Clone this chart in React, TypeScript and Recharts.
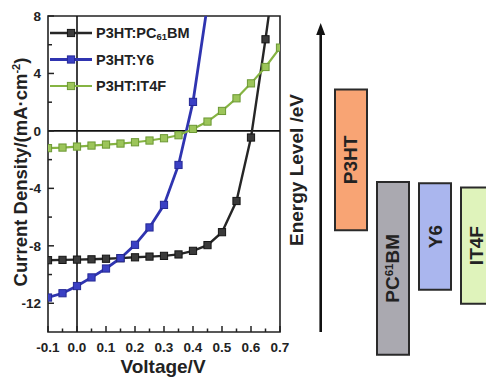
import React from 'react';
import {
  ComposedChart,
  Line,
  XAxis,
  YAxis,
  ReferenceLine,
  ReferenceArea,
  Legend,
  BarChart,
  Bar,
  Cell,
  LabelList,
} from 'recharts';

// ---------- J-V data ----------
const voltage = [-0.1, -0.05, 0, 0.05, 0.1, 0.15, 0.2, 0.25, 0.3, 0.35, 0.4, 0.45, 0.5, 0.55, 0.6, 0.65, 0.7];
const jPC61BM = [-9.0, -8.98, -8.96, -8.94, -8.9, -8.86, -8.8, -8.75, -8.7, -8.6, -8.35, -7.95, -7.05, -4.88, -0.46, 6.38, 13.8];
const jY6 = [-11.6, -11.3, -10.8, -10.2, -9.58, -8.86, -7.93, -6.72, -5.15, -2.37, 2.02, 8.8];
const jIT4F = [-1.2, -1.16, -1.09, -1.02, -0.95, -0.88, -0.79, -0.67, -0.51, -0.3, 0.14, 0.65, 1.39, 2.27, 3.31, 4.45, 5.8];

const seriesKeys = ['pcbm', 'y6', 'it4f'];
const seriesNames = ['P3HT:PC61BM', 'P3HT:Y6', 'P3HT:IT4F'];
const seriesColors = ['#262626', '#2f34b0', '#86b443'];
const markerFills = ['#3a3a3a', '#3a40c4', '#9cc55a'];
const markerStrokes = ['#151515', '#262a96', '#6c9834'];
const seriesWidths = [2.4, 2.8, 2.2];

const xTicks = [-0.1, -0.05, 0, 0.05, 0.1, 0.15, 0.2, 0.25, 0.3, 0.35, 0.4, 0.45, 0.5, 0.55, 0.6, 0.65, 0.7];
const yTicks = [-14, -12, -10, -8, -6, -4, -2, 0, 2, 4, 6, 8];
const yLabelled = [-12, -8, -4, 0, 4, 8];

// ---------- Energy level data ----------
const materials = ['P3HT', 'PC61BM', 'Y6', 'IT4F'];
const lumo = [-2.95, -4.27, -4.29, -4.35];
const homo = [-4.96, -6.74, -5.81, -6.01];
const materialColors = ['#f8a474', '#aaa9b0', '#aab6ee', '#dff3bb'];

const FONT = '"Liberation Sans", Arial, sans-serif';

const jvData = voltage.map((v, i) => ({
  v,
  pcbm: jPC61BM[i],
  y6: i < jY6.length ? jY6[i] : null,
  it4f: jIT4F[i],
}));

const energyData = materials.map((m, i) => ({ name: m, range: [homo[i], lumo[i]] }));

const renderName = (name: string, smallSize: number, dy: number) => {
  const idx = name.indexOf('61');
  if (idx < 0) return name;
  return [
    <tspan key="a">{name.slice(0, idx)}</tspan>,
    <tspan key="b" fontSize={smallSize} dy={dy}>61</tspan>,
    <tspan key="c" dy={-dy}>{name.slice(idx + 2)}</tspan>,
  ];
};

const isMajorX = (v: number) => Math.abs(Math.round(v * 10) - v * 10) < 1e-6;

const XTick = (props: any) => {
  const { x, y, payload } = props;
  const v = payload.value;
  const major = isMajorX(v);
  return (
    <g>
      <line x1={x} y1={y} x2={x} y2={y - (major ? 6 : 3.5)} stroke="#222" strokeWidth={1.5} />
      {major && (
        <text x={x} y={y + 20} textAnchor="middle" fontFamily={FONT} fontWeight="bold" fontSize={13.5} fill="#222">
          {v.toFixed(1)}
        </text>
      )}
    </g>
  );
};

const YTick = (props: any) => {
  const { x, y, payload } = props;
  const v = payload.value;
  const major = yLabelled.includes(v);
  if (v === -14) return <g />;
  return (
    <g>
      <line x1={x} y1={y} x2={x + (major ? 6 : 4)} y2={y} stroke="#222" strokeWidth={1.5} />
      {major && (
        <text x={x - 7} y={y + 5} textAnchor="end" fontFamily={FONT} fontWeight="bold" fontSize={13.5} fill="#222">
          {v}
        </text>
      )}
    </g>
  );
};

const makeDot = (i: number) => (p: any) => {
  if (p.cx == null || p.cy == null || p.value == null) return <g key={`d${i}-${p.index}`} />;
  return (
    <rect
      key={`d${i}-${p.index}`}
      x={p.cx - 3.6}
      y={p.cy - 3.6}
      width={7.2}
      height={7.2}
      fill={markerFills[i]}
      stroke={markerStrokes[i]}
      strokeWidth={1}
    />
  );
};

const renderLegend = () => (
  <svg width={170} height={80} style={{ display: 'block', overflow: 'visible' }}>
    {seriesNames.map((n, i) => {
      const cy = 13 + i * 26.5;
      return (
        <g key={n}>
          <line x1={2} y1={cy} x2={44} y2={cy} stroke={seriesColors[i]} strokeWidth={seriesWidths[i]} />
          <rect x={19.4} y={cy - 3.6} width={7.2} height={7.2} fill={markerFills[i]} stroke={markerStrokes[i]} />
          <text x={48} y={cy + 5} fontFamily={FONT} fontWeight="bold" fontSize={14.5} fill="#222">
            {renderName(n, 9.5, 1.5)}
          </text>
        </g>
      );
    })}
  </svg>
);

const YTitle = (props: any) => {
  const vb = props.viewBox || { x: 0, y: 16, width: 48, height: 316 };
  const cx = 27;
  const cy = vb.y + vb.height / 2 - 2;
  return (
    <text
      x={cx}
      y={cy}
      transform={`rotate(-90, ${cx}, ${cy})`}
      textAnchor="middle"
      fontFamily={FONT}
      fontWeight="bold"
      fontSize={18.5}
      fill="#222"
    >
      Current Density/(mA·cm
      <tspan fontSize={11} dy={-7}>-2</tspan>
      <tspan dy={7}>)</tspan>
    </text>
  );
};

const XTitle = (props: any) => {
  const vb = props.viewBox || { x: 48, y: 332, width: 232, height: 46 };
  return (
    <text
      x={vb.x + vb.width / 2 - 1}
      y={vb.y + 41}
      textAnchor="middle"
      fontFamily={FONT}
      fontWeight="bold"
      fontSize={19}
      fill="#222"
    >
      Voltage/V
    </text>
  );
};

const EnergyAxis = (props: any) => {
  const vb = props.viewBox || { x: 0, y: 23, width: 41, height: 350 };
  const ax = vb.x + vb.width - 0.3;
  const top = vb.y;
  const bottom = vb.y + vb.height - 41;
  const tx = vb.x + 23;
  const ty = 170;
  return (
    <g>
      <line x1={ax} y1={top + 9} x2={ax} y2={bottom} stroke="#111" strokeWidth={2.6} />
      <polygon points={`${ax - 4.5},${top + 12} ${ax},${top} ${ax + 4.5},${top + 12}`} fill="#111" />
      <text
        x={tx}
        y={ty}
        transform={`rotate(-90, ${tx}, ${ty})`}
        textAnchor="middle"
        fontFamily={FONT}
        fontWeight="bold"
        fontSize={19}
        fill="#222"
      >
        Energy Level /eV
      </text>
    </g>
  );
};

const BarName = (props: any) => {
  const { x, y, width, height, value } = props;
  const cx = x + width / 2 + 6.5;
  const cy = y + height / 2;
  return (
    <text
      x={cx}
      y={cy}
      transform={`rotate(-90, ${cx}, ${cy})`}
      textAnchor="middle"
      fontFamily={FONT}
      fontWeight="bold"
      fontSize={19}
      fill="#222"
    >
      {renderName(String(value), 11.5, -6)}
    </text>
  );
};

export default function App() {
  return (
    <div
      style={{
        position: 'absolute',
        left: 0,
        top: 0,
        width: 486,
        height: 378,
        overflow: 'hidden',
        background: '#fff',
      }}
    >
      <div style={{ position: 'absolute', left: 0, top: 0 }}>
        <ComposedChart width={290} height={378} data={jvData} margin={{ top: 16, right: 10, bottom: 0, left: 0 }}>
          <XAxis
            dataKey="v"
            type="number"
            domain={[-0.1, 0.7]}
            ticks={xTicks}
            interval={0}
            allowDataOverflow
            height={46}
            tickSize={0}
            tickMargin={0}
            axisLine={false}
            tickLine={false}
            tick={XTick}
            label={{ content: XTitle }}
          />
          <YAxis
            type="number"
            domain={[-14, 8]}
            ticks={yTicks}
            interval={0}
            allowDataOverflow
            width={48}
            tickSize={0}
            tickMargin={0}
            axisLine={false}
            tickLine={false}
            tick={YTick}
            label={{ content: YTitle }}
          />
          <ReferenceArea x1={-0.1} x2={0.7} y1={-14} y2={8} fill="none" stroke="#222" strokeWidth={1.6} ifOverflow="visible" />
          <ReferenceLine x={0} stroke="#111" strokeWidth={1.6} />
          <ReferenceLine y={0} stroke="#111" strokeWidth={1.6} />
          {seriesKeys.map((k, i) => (
            <Line
              key={k}
              dataKey={k}
              name={seriesNames[i]}
              stroke={seriesColors[i]}
              strokeWidth={seriesWidths[i]}
              dot={makeDot(i)}
              activeDot={false}
              isAnimationActive={false}
              connectNulls={false}
            />
          ))}
          <Legend
            layout="vertical"
            align="center"
            verticalAlign="middle"
            width={170}
            height={80}
            content={renderLegend}
            wrapperStyle={{ left: 48, top: 20, width: 170, height: 80 }}
          />
        </ComposedChart>
      </div>
      <div style={{ position: 'absolute', left: 280, top: 0 }}>
        <BarChart width={240} height={378} data={energyData} margin={{ top: 23, right: 22, bottom: 5, left: 0 }}>
          <XAxis dataKey="name" hide padding={{ left: 9, right: 0 }} />
          <YAxis
            type="number"
            domain={[-7, -2]}
            allowDataOverflow
            width={41}
            tick={false}
            axisLine={false}
            tickLine={false}
            label={{ content: EnergyAxis }}
          />
          <Bar dataKey="range" barSize={32} stroke="#2a2a2a" strokeWidth={2} isAnimationActive={false}>
            {energyData.map((d, i) => (
              <Cell key={d.name} fill={materialColors[i]} />
            ))}
            <LabelList dataKey="name" content={BarName} />
          </Bar>
        </BarChart>
      </div>
    </div>
  );
}
